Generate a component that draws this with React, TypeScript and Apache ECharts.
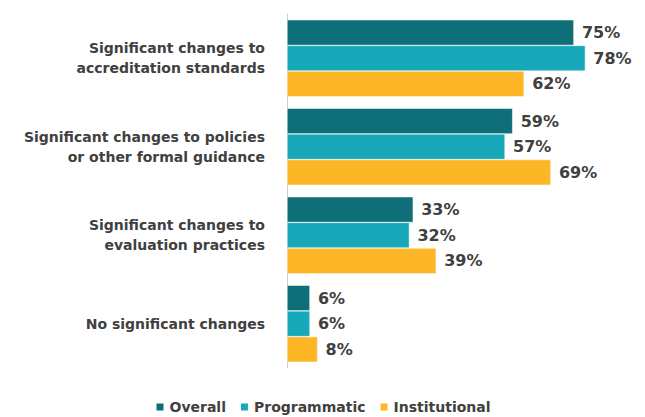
import React, { useEffect, useRef } from "react";
import * as echarts from "echarts";

const categories = [
  "Significant changes to\naccreditation standards",
  "Significant changes to policies\nor other formal guidance",
  "Significant changes to\nevaluation practices",
  "No significant changes",
];
const overall = [75, 59, 33, 6];
const programmatic = [78, 57, 32, 6];
const institutional = [62, 69, 39, 8];
const seriesNames = ["Overall", "Programmatic", "Institutional"];
const colors = ["#0f6f79", "#17a9ba", "#fcb626"];

export default function App() {
  const ref = useRef<HTMLDivElement>(null);
  useEffect(() => {
    if (!ref.current) return;
    const chart = echarts.init(ref.current, null, { renderer: "svg" });
    const font = "'DejaVu Sans', sans-serif";
    const mk = (name: string, data: number[], color: string) => ({
      name,
      type: "bar",
      data,
      barGap: "0%",
      barCategoryGap: "13%",
      itemStyle: { color, borderColor: "#ffffff", borderWidth: 0.5 },
      label: {
        show: true,
        position: "right",
        distance: 8,
        formatter: "{c}%",
        color: "#404040",
        fontFamily: font,
        fontWeight: "bold",
        fontSize: 16,
      },
    });
    chart.setOption({
      animation: false,
      grid: { left: 287, right: 52, top: 14, bottom: 49 },
      xAxis: {
        type: "value",
        min: 0,
        max: 80,
        show: false,
      },
      yAxis: {
        type: "category",
        data: categories,
        inverse: true,
        axisLine: { show: true, lineStyle: { color: "#cccccc", width: 1 } },
        axisTick: { show: false },
        axisLabel: {
          color: "#404040",
          fontFamily: font,
          fontWeight: "bold",
          fontSize: 14,
          lineHeight: 20,
          margin: 22,
          align: "right",
        },
      },
      legend: {
        top: 395,
        left: "center",
        itemWidth: 9,
        itemHeight: 9,
        itemGap: 13,
        icon: "rect",
        textStyle: {
          color: "#404040",
          fontFamily: font,
          fontWeight: "bold",
          fontSize: 14,
        },
        data: seriesNames,
      },
      series: [
        mk(seriesNames[0], overall, colors[0]),
        mk(seriesNames[1], programmatic, colors[1]),
        mk(seriesNames[2], institutional, colors[2]),
      ],
    });
    return () => chart.dispose();
  }, []);
  return (
    <div
      ref={ref}
      style={{ position: "absolute", left: 0, top: 0, width: 645, height: 417 }}
    />
  );
}
